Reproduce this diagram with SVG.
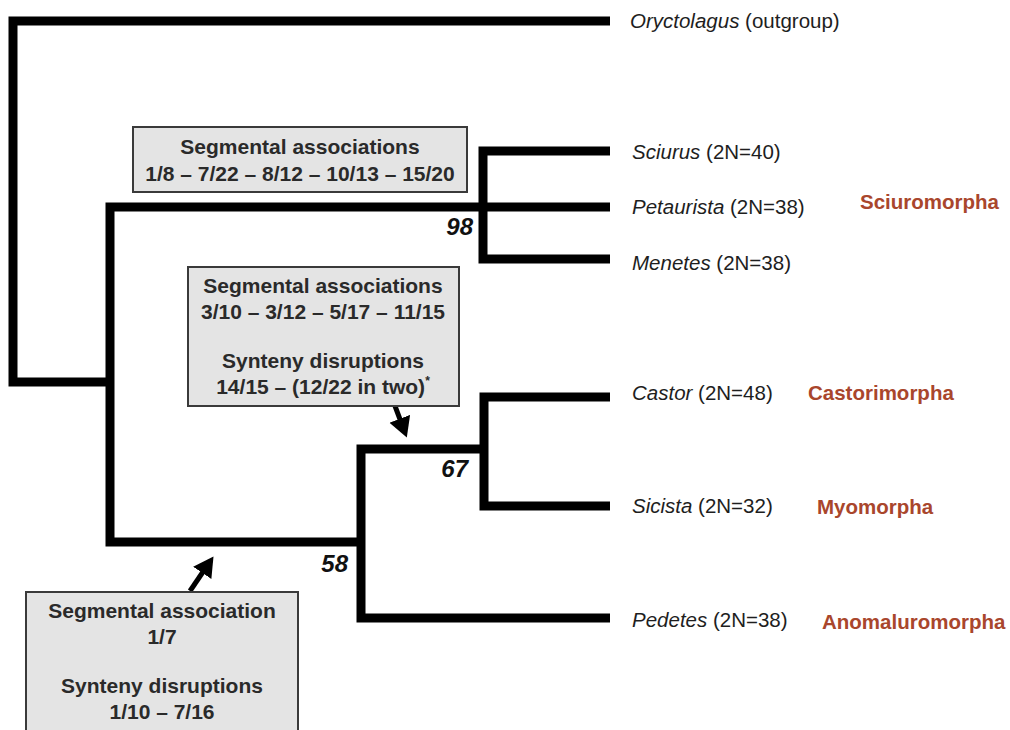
<svg xmlns="http://www.w3.org/2000/svg" width="1010" height="730" viewBox="0 0 1010 730">
  <defs>
    <style>
      .br { fill: none; stroke: #000; stroke-width: 9; stroke-linejoin: miter; stroke-linecap: butt; }
      .box { fill: #e4e4e4; stroke: #3a3a3a; stroke-width: 2; }
      .bt { font-family: "Liberation Sans", Arial, sans-serif; font-size: 21px; font-weight: bold; fill: #2a2a2a; text-anchor: middle; }
      .sp { font-family: "Liberation Sans", Arial, sans-serif; font-size: 20.5px; fill: #1e1e1e; }
      .it { font-style: italic; }
      .cl { font-family: "Liberation Sans", Arial, sans-serif; font-size: 20.5px; font-weight: bold; fill: #a9462c; }
      .bs { font-family: "Liberation Sans", Arial, sans-serif; font-size: 24px; font-weight: bold; font-style: italic; fill: #111; text-anchor: end; }
      .ar { stroke: #000; stroke-width: 5; fill: none; }
    </style>
    <marker id="ah" markerWidth="5" markerHeight="5" refX="2.4" refY="2.2" orient="auto" markerUnits="strokeWidth">
      <path d="M0,0 L4,2.2 L0,4.4 Z" fill="#000"/>
    </marker>
  </defs>

  <g id="connectors">
    <path class="br" d="M610,21 H13 V382 H110"/>
    <path class="br" d="M110,382 V207 H610"/>
    <path class="br" d="M610,151 H483 V259 H610"/>
    <path class="br" d="M110,382 V542 H361"/>
    <path class="br" d="M361,542 V449 H484"/>
    <path class="br" d="M361,542 V618 H610"/>
    <path class="br" d="M610,397 H484 V506 H610"/>
    <line class="ar" x1="395" y1="406" x2="404" y2="430" marker-end="url(#ah)"/>
    <line class="ar" x1="190" y1="591" x2="209" y2="563" marker-end="url(#ah)"/>
  </g>

  <g id="bootstrap">
    <text class="bs" x="473" y="235">98</text>
    <text class="bs" x="468" y="477">67</text>
    <text class="bs" x="348" y="572">58</text>
  </g>

  <g id="box-sciuromorpha">
    <rect class="box" x="133" y="127" width="334" height="65"/>
    <text class="bt" x="300" y="154">Segmental associations</text>
    <text class="bt" x="300" y="181">1/8 – 7/22 – 8/12 – 10/13 – 15/20</text>
  </g>

  <g id="box-castor-sicista">
    <rect class="box" x="188" y="267" width="271" height="139"/>
    <text class="bt" x="323" y="293">Segmental associations</text>
    <text class="bt" x="323" y="319">3/10 – 3/12 – 5/17 – 11/15</text>
    <text class="bt" x="323" y="368">Synteny disruptions</text>
    <text class="bt" x="323" y="394">14/15 – (12/22 in two)<tspan font-size="12" dy="-9">*</tspan></text>
  </g>

  <g id="box-lower">
    <rect class="box" x="26" y="592" width="272" height="150"/>
    <text class="bt" x="162" y="618">Segmental association</text>
    <text class="bt" x="162" y="644">1/7</text>
    <text class="bt" x="162" y="693">Synteny disruptions</text>
    <text class="bt" x="162" y="719">1/10 – 7/16</text>
  </g>

  <g id="taxon-oryctolagus"><text class="sp" x="630" y="28"><tspan class="it">Oryctolagus</tspan> (outgroup)</text></g>
  <g id="taxon-sciurus"><text class="sp" x="632" y="159"><tspan class="it">Sciurus</tspan> (2N=40)</text></g>
  <g id="taxon-petaurista"><text class="sp" x="632" y="214"><tspan class="it">Petaurista</tspan> (2N=38)</text></g>
  <g id="taxon-menetes"><text class="sp" x="632" y="270"><tspan class="it">Menetes</tspan> (2N=38)</text></g>
  <g id="taxon-castor"><text class="sp" x="632" y="400"><tspan class="it">Castor</tspan> (2N=48)</text></g>
  <g id="taxon-sicista"><text class="sp" x="632" y="513"><tspan class="it">Sicista</tspan> (2N=32)</text></g>
  <g id="taxon-pedetes"><text class="sp" x="632" y="627"><tspan class="it">Pedetes</tspan> (2N=38)</text></g>

  <g id="clade-sciuromorpha"><text class="cl" x="860" y="209">Sciuromorpha</text></g>
  <g id="clade-castorimorpha"><text class="cl" x="808" y="400">Castorimorpha</text></g>
  <g id="clade-myomorpha"><text class="cl" x="817" y="514">Myomorpha</text></g>
  <g id="clade-anomaluromorpha"><text class="cl" x="822" y="629">Anomaluromorpha</text></g>
</svg>
